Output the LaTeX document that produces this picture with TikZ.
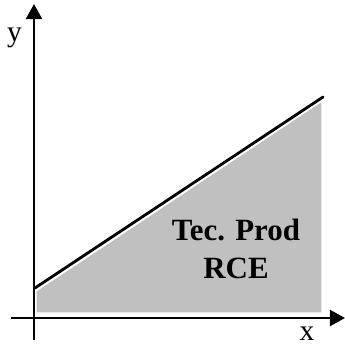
\documentclass[tikz,border=0pt]{standalone}
\usepackage{fontspec}
\setmainfont{Liberation Serif}
\usetikzlibrary{arrows.meta,positioning,calc}
\tikzset{
    eje/.style={
        line width=1.4pt,         % ejes finos
        -{Triangle[length=15*0.025cm,width=16*0.025cm]} % punta triangular grande
    },
    region/.style={
        fill={rgb,255:red,192;green,192;blue,192}, % gris claro
        draw=white,               % borde blanco fino
        line width=0.8pt
    },
    frontera/.style={
        line width=2pt,           % línea gruesa
        line cap=round
    },
    etiqueta/.style={
        font=\fontsize{21}{25}\selectfont,
        inner sep=0pt
    },
    rotulo/.style={
        font=\bfseries\fontsize{22}{27}\selectfont,
        align=center,
        inner sep=0pt
    }
}

\begin{document}
\begin{tikzpicture}[x=0.025cm,y=-0.025cm]
			\useasboundingbox (0,0) rectangle (345,345);
			\fill[region] (36,291) -- (322,101) -- (322,313) -- (36,313) -- cycle;

			\coordinate (ycola) at (34,340);
			\coordinate (ypunta) at (34,4);
			\coordinate (xcola) at (11,318);
			\coordinate (xpunta) at (345,318);
			\coordinate (lini) at (35,288);
			\coordinate (lfin) at (323,97);

			\draw[eje] (ycola) -- (ypunta);
			\draw[eje] (xcola) -- (xpunta);
			\draw[frontera] (lini) -- (lfin);

			\node[etiqueta, anchor=base] (ylab) at (14.5,41) {y};
			\node[etiqueta, anchor=base] (xlab) at (307,340) {x};
			\node[rotulo] (tec) at (236,249) {Tec. Prod\\RCE};
		\end{tikzpicture}
\end{document}
